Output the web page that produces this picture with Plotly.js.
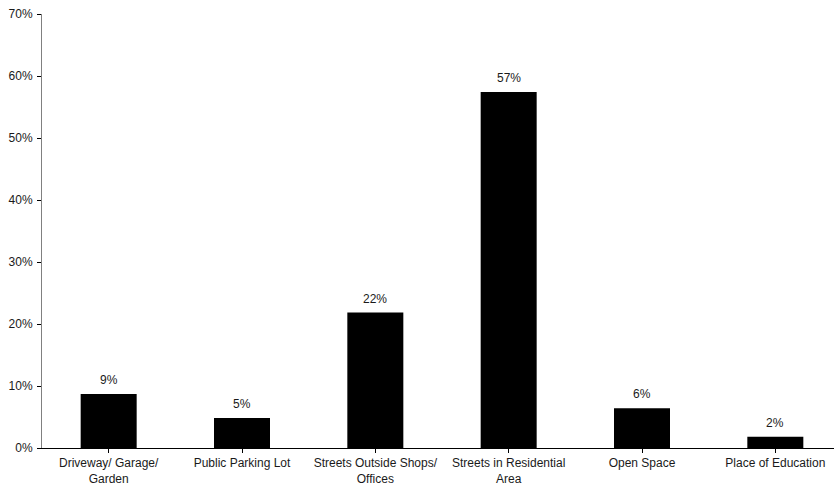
<!DOCTYPE html>
<html>
<head>
<meta charset="utf-8">
<script src="https://cdn.plot.ly/plotly-3.0.1.min.js"></script>
<style>html,body{margin:0;padding:0;background:#fff;}#chart{width:834px;height:491px;}</style>
</head>
<body>
<div id="chart"></div>
<script>
const categories = ["Driveway/ Garage/<br>Garden", "Public Parking Lot", "Streets Outside Shops/<br>Offices", "Streets in Residential<br>Area", "Open Space", "Place of Education"];
const values = [8.7, 4.85, 21.85, 57.4, 6.4, 1.8];
const labels = ["9%", "5%", "22%", "57%", "6%", "2%"];
const yTicks = [0, 10, 20, 30, 40, 50, 60, 70];
const yTickText = ["0%", "10%", "20%", "30%", "40%", "50%", "60%", "70%"];

const xs = categories.map((c, i) => i);
const fontFam = "Liberation Sans, Arial, sans-serif";
const txtCol = "#1a1a1a";

const trace = {
  type: "bar",
  x: xs,
  y: values,
  marker: {color: "#000000", line: {width: 0}},
  hoverinfo: "skip"
};

const annotations = values.map((v, i) => ({
  x: i, y: v, xref: "x", yref: "y",
  text: labels[i], showarrow: false,
  yanchor: "bottom", yshift: 5,
  font: {family: fontFam, size: 12, color: txtCol}
}));

const layout = {
  width: 834, height: 491,
  margin: {l: 42, r: 0, t: 14, b: 43, pad: 0},
  paper_bgcolor: "#fff", plot_bgcolor: "#fff",
  showlegend: false,
  bargap: 0.58,
  font: {family: fontFam, size: 12, color: txtCol},
  xaxis: {
    range: [-0.5, 5.44],
    tickmode: "array", tickvals: xs, ticktext: categories,
    tickson: "boundaries",
    ticks: "outside", ticklen: 4, tickcolor: "#000", tickwidth: 1,
    showline: true, linecolor: "#000", linewidth: 1,
    showgrid: false, zeroline: false,
    tickfont: {family: fontFam, size: 12, color: txtCol},
    fixedrange: true
  },
  yaxis: {
    range: [0, 70],
    tickmode: "array", tickvals: yTicks, ticktext: yTickText,
    ticks: "outside", ticklen: 4, tickcolor: "#000", tickwidth: 1,
    ticklabelstandoff: 2,
    showline: true, linecolor: "#808080", linewidth: 1,
    showgrid: false, zeroline: false,
    tickfont: {family: fontFam, size: 12, color: txtCol},
    fixedrange: true
  },
  annotations: annotations
};

Plotly.newPlot("chart", [trace], layout, {displayModeBar: false, staticPlot: true});
</script>
</body>
</html>
